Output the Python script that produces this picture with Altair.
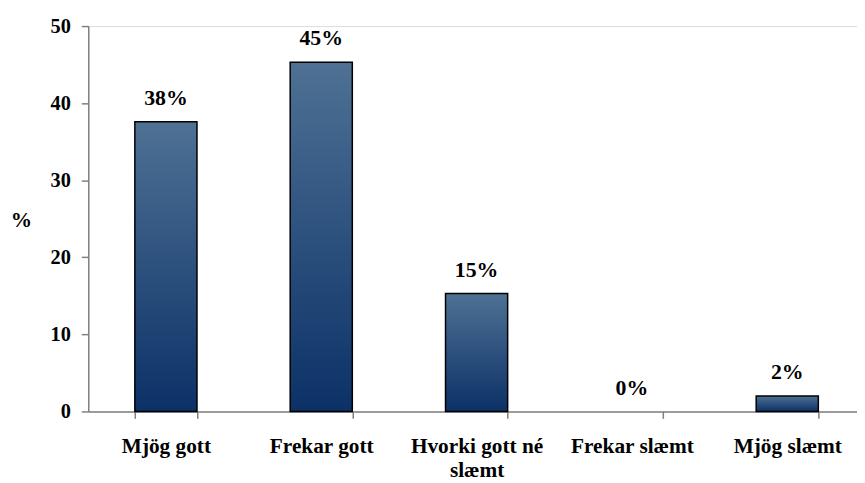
import altair as alt
import pandas as pd

categories = ["Mjög gott", "Frekar gott", "Hvorki gott né\nslæmt", "Frekar slæmt", "Mjög slæmt"]
values = [37.6, 45.3, 15.3, 0.0, 2.0]
labels = ["38%", "45%", "15%", "0%", "2%"]

df = pd.DataFrame({"cat": categories, "val": values, "lab": labels})

FONT = "Liberation Serif"

x = alt.X(
    "cat:N",
    sort=categories,
    title=None,
    scale=alt.Scale(paddingInner=0.6, paddingOuter=0.3),
    axis=alt.Axis(
        labelAngle=0,
        labelFont=FONT,
        labelFontSize=21.5,
        labelFontWeight="bold",
        labelColor="black",
        labelPadding=17,
        labelLineHeight=25,
        labelExpr="split(datum.label, '\\n')",
        tickBand="extent",
        tickSize=7,
        tickColor="#808080",
        tickWidth=1.5,
        domainColor="#808080",
        domainWidth=1.5,
        labelLimit=300,
    ),
)

y = alt.Y(
    "val:Q",
    scale=alt.Scale(domain=[0, 50], nice=False),
    axis=alt.Axis(
        values=[0, 10, 20, 30, 40, 50],
        title="%",
        titleAngle=0,
        titleAlign="center",
        titleBaseline="middle",
        titleX=-68,
        titleY=196,
        titleFont=FONT,
        titleFontSize=21.5,
        titleFontWeight="bold",
        titleColor="black",
        labelFont=FONT,
        labelFontSize=20.5,
        labelFontWeight="bold",
        labelColor="black",
        labelPadding=11,
        tickSize=7,
        tickColor="#808080",
        tickWidth=1.5,
        domainColor="#808080",
        domainWidth=1.5,
        grid=False,
    ),
)

grad = alt.Gradient(
    gradient="linear",
    x1=0, y1=0, x2=0, y2=1,
    stops=[
        alt.GradientStop(offset=0, color="#4e7194"),
        alt.GradientStop(offset=1, color="#0b3167"),
    ],
)

bars = alt.Chart(df).mark_bar(fill=grad, stroke="black", strokeWidth=1.5).encode(
    x=x,
    y=y,
    strokeOpacity=alt.condition("datum.val > 0", alt.value(1), alt.value(0)),
)

text = alt.Chart(df).mark_text(
    font=FONT, fontSize=22, fontWeight="bold", color="black",
    baseline="alphabetic", dy=-17,
).encode(x=x, y=y, text="lab:N")

chart = (
    alt.layer(bars, text)
    .properties(
        width=784,
        height=389,
        autosize=alt.AutoSizeParams(type="none"),
        padding={"left": 81, "top": 16, "right": -8, "bottom": 70},
    )
    .configure_view(stroke=None)
    .configure(background="white")
)

chart.save("out.html", embed_options={"renderer": "svg", "actions": False})
